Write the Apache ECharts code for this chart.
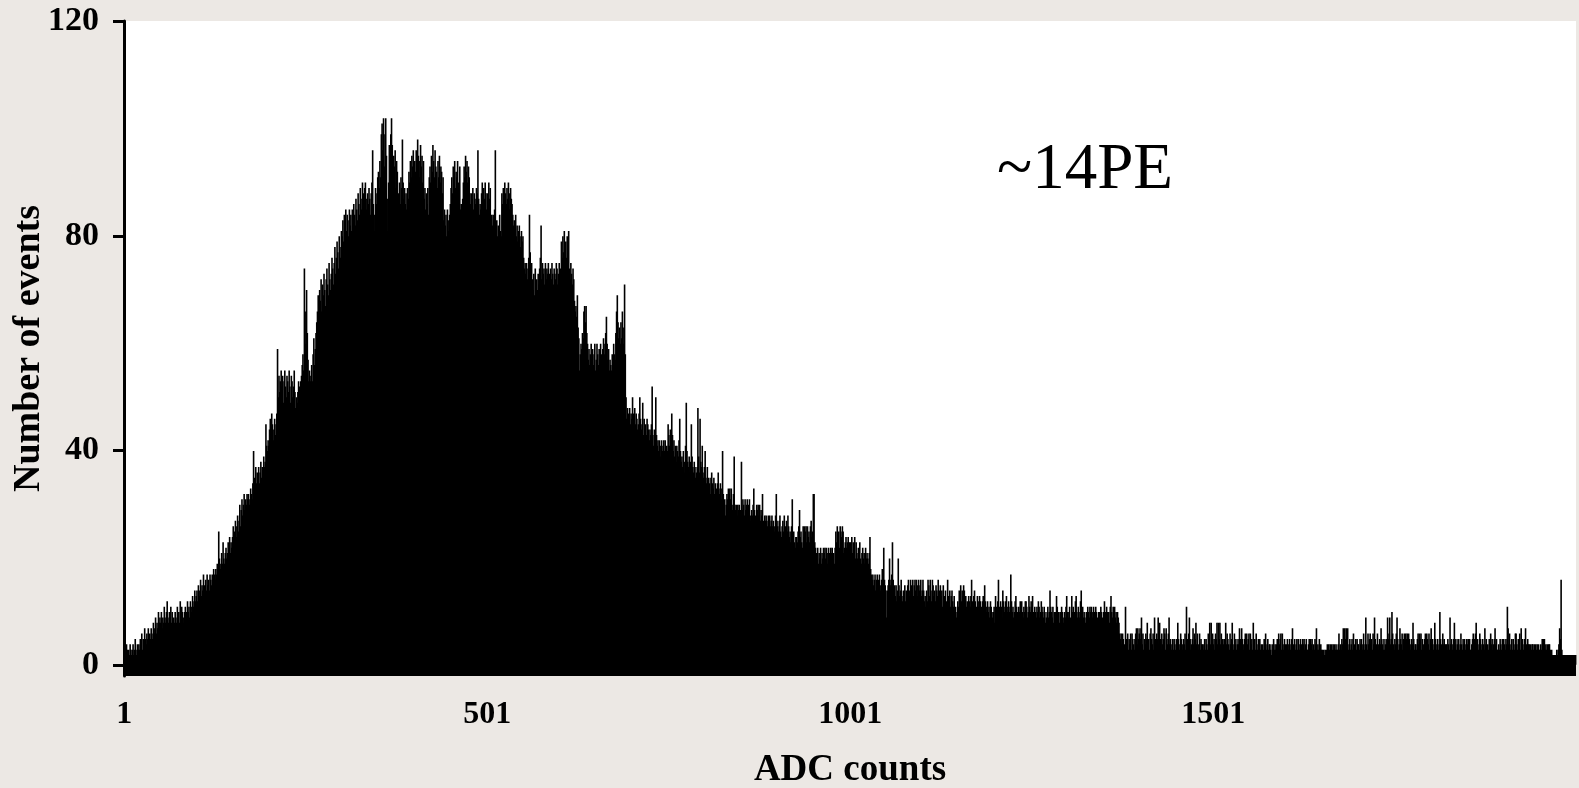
<!DOCTYPE html>
<html>
<head>
<meta charset="utf-8">
<title>ADC counts</title>
<script src="https://cdn.jsdelivr.net/npm/echarts@6/dist/echarts.min.js"></script>
<style>
html,body{margin:0;padding:0;background:#ece8e4;}
#main{width:1579px;height:788px;}
</style>
</head>
<body>
<div id="main"></div>
<script>
// events per ADC channel (bins 1..2000)
var countsRise = [ // bins 1-300
59,3,2,4,3,2,3,2,4,3,2,3,4,2,3,5,3,2,4,3,4,3,5,4,6,3,5,4,7,5,4,6,5,7,4,6,5,7,6,5,8,6,7,9,6,8,7,10,8,9,
8,10,7,9,8,11,9,8,10,12,9,8,10,9,11,8,10,7,9,8,10,9,8,11,9,10,8,12,9,11,10,9,8,10,11,9,10,12,10,11,9,12,11,10,13,11,12,14,12,13,
14,12,15,13,14,16,13,15,14,17,15,13,16,14,17,15,16,14,17,16,15,17,16,18,17,16,18,17,19,18,25,20,18,19,21,19,23,20,19,21,22,20,21,23,22,24,21,23,22,24,
26,24,25,27,24,26,28,25,27,30,26,29,31,28,30,32,29,31,30,32,31,32,30,31,33,32,31,34,40,35,33,37,34,36,35,37,34,36,38,35,37,36,39,37,38,45,41,40,42,41,
44,46,43,47,45,42,44,46,43,45,47,59,50,54,51,53,55,52,54,49,53,55,52,50,54,53,51,55,52,49,54,53,50,52,55,51,48,50,49,51,53,52,50,53,54,56,58,55,74,60,
66,70,62,57,53,55,53,54,56,53,58,61,56,59,62,64,66,69,65,70,68,72,66,71,69,73,70,67,72,74,71,69,75,72,70,73,76,74,71,75,78,73,76,79,77,74,80,78,76,81
];
var countsPeak = [ // bins 301-700
80,83,79,84,82,85,81,84,83,80,85,82,84,81,85,83,86,84,82,87,85,83,88,86,84,89,87,85,90,88,86,89,90,87,85,88,86,89,87,84,88,90,96,86,81,84,89,86,88,91,
92,89,94,91,99,101,96,102,93,99,102,95,87,81,90,97,93,99,102,97,91,95,93,96,89,94,92,85,88,90,86,91,89,98,90,87,89,86,88,85,89,87,92,90,94,91,95,93,96,92,
94,92,96,93,98,95,91,94,97,93,95,90,94,87,89,85,88,86,89,84,91,93,90,95,92,97,94,91,96,93,92,89,94,91,95,90,93,92,88,91,83,85,82,84,80,85,83,81,84,86,
89,91,88,93,90,94,89,92,91,94,90,88,93,85,86,83,87,90,93,91,95,92,94,90,93,91,88,86,88,87,89,85,88,87,86,89,88,96,87,84,86,85,88,90,86,89,87,90,88,85,
88,86,90,87,89,83,84,82,84,83,85,96,81,83,80,82,79,84,81,80,88,86,89,87,90,88,86,89,87,90,88,85,89,87,86,84,82,83,81,84,80,82,79,81,82,80,78,81,79,80,
76,74,75,73,75,72,74,76,84,77,74,75,72,70,73,69,74,71,72,70,73,71,74,76,82,72,75,73,74,71,75,72,74,73,75,70,73,74,72,75,73,71,74,73,72,75,74,71,73,75,
72,74,79,76,80,77,81,78,79,76,80,78,81,74,72,75,73,71,74,72,68,66,67,65,69,63,61,55,58,60,59,62,61,66,67,64,67,62,60,57,59,56,58,60,57,59,56,58,60,55,
57,60,58,56,59,57,60,58,56,59,61,58,60,62,65,60,57,59,55,57,56,55,58,56,60,58,57,62,66,69,64,61,63,60,64,61,66,63,60,71,58,50,46,48,47,46,48,45,47,46
];
var countsFall = [ // bins 701-1350
50,47,46,48,45,47,46,44,45,47,50,46,44,45,49,43,46,44,45,43,46,45,44,42,44,43,45,52,43,41,44,42,50,43,41,42,40,42,41,39,42,40,41,42,40,42,39,41,40,45,
43,41,44,42,47,43,40,42,39,41,38,41,40,39,42,46,40,38,39,37,40,36,38,41,49,40,38,37,39,36,38,45,39,37,36,38,37,35,36,37,48,39,36,46,38,37,41,36,35,37,
40,35,34,37,33,35,34,32,35,36,34,33,35,32,34,31,33,34,36,33,32,34,31,33,40,32,30,31,28,30,32,31,33,32,33,31,33,30,29,32,39,30,29,30,28,30,29,30,27,29,
38,29,31,30,28,31,29,30,31,29,30,31,28,27,29,28,30,33,29,28,27,30,29,30,28,30,27,29,28,32,27,26,28,27,28,27,26,28,27,28,26,27,28,26,27,25,26,28,32,27,
26,25,27,28,25,24,26,27,25,28,24,26,27,25,28,26,24,25,23,26,31,24,25,23,22,24,24,23,25,26,29,24,25,23,22,26,24,26,25,26,23,26,24,25,23,26,27,24,25,32,
32,23,22,21,20,22,19,21,20,22,19,21,20,22,21,22,20,22,21,19,22,21,20,22,21,22,20,21,19,22,25,23,26,24,25,22,26,25,24,26,25,21,22,23,24,22,23,24,22,23,
23,22,24,21,23,22,24,20,23,21,20,22,21,23,20,19,21,22,20,21,19,22,20,21,20,19,21,24,18,17,16,17,15,16,17,14,16,17,15,16,17,15,14,16,18,17,22,16,15,14,
9,14,15,16,20,15,16,17,23,16,14,15,13,15,12,14,20,15,13,14,16,13,12,14,13,15,12,14,13,15,16,14,13,16,15,14,16,13,15,16,14,16,15,13,16,14,15,16,13,14,
16,14,12,13,11,14,12,16,15,13,16,14,12,16,15,13,14,12,15,14,13,16,12,14,15,13,14,11,15,12,13,14,12,10,16,13,12,14,11,13,14,12,11,13,10,11,9,10,12,11,
14,13,15,12,14,13,15,14,12,13,11,12,10,13,12,11,13,16,12,11,13,14,12,10,11,13,12,11,13,12,10,11,12,13,11,15,12,10,11,12,10,11,9,12,11,10,9,10,11,8,
13,11,10,12,16,11,10,12,11,9,14,12,10,11,12,13,10,11,12,10,11,17,12,10,11,9,10,12,13,11,10,9,11,10,12,11,12,10,9,11,10,12,12,11,9,10,13,11,10,12,
11,13,10,9,11,10,9,11,10,12,11,9,10,12,11,10,9,11,10,8,9,10,11,9,10,14,11,10,9,11,8,10,9,10,13,11,9,10,8,10,9,11,10,9,8,10,9,11,13,10,
9,10,11,9,8,13,10,11,9,10,12,13,10,9,11,10,9,12,14,10,11,9,10,9,8,10,9,11,10,9,11,10,11,10,9,11,10,9,11,10,9,8,10,10,9,11,10,9,8,10
];
var countsTail = [ // bins 1351-2000
12,10,9,11,10,9,10,8,11,13,10,9,11,10,11,9,10,8,10,9,8,6,5,6,4,6,5,3,4,11,5,4,6,3,5,4,6,3,6,5,4,3,5,6,7,4,7,5,6,7,
5,9,4,6,3,5,4,6,5,8,4,5,3,6,7,5,4,6,3,9,5,4,6,5,9,4,8,5,3,6,4,5,7,6,3,7,5,4,6,9,4,5,3,4,5,3,5,4,3,5,
4,8,5,3,4,6,5,4,3,5,4,6,3,11,5,4,6,9,5,3,4,5,7,4,6,5,8,4,6,3,4,6,3,5,4,4,3,4,5,3,5,4,3,6,5,8,4,8,5,6,
4,5,3,6,5,8,4,8,5,8,4,6,3,5,4,5,3,8,4,6,5,4,3,6,4,5,8,4,3,6,4,5,3,4,5,4,7,5,4,7,5,3,4,5,6,3,6,4,5,6,
3,6,4,5,3,8,4,5,3,6,4,3,5,4,5,3,4,3,4,3,5,4,6,3,4,5,3,4,4,3,2,4,3,5,3,4,3,4,5,3,6,4,5,6,3,6,4,3,5,4,
3,4,5,3,4,5,3,4,5,7,4,3,5,3,4,5,3,5,4,3,5,4,3,5,4,5,3,4,5,3,3,4,5,3,5,4,5,3,4,3,5,4,7,3,4,3,5,3,4,3,
3,2,3,2,3,2,3,4,3,4,3,4,3,4,3,4,3,4,3,4,3,3,4,6,3,4,3,5,4,7,4,7,5,7,4,7,3,4,5,3,4,5,3,6,4,3,5,3,5,4,
4,3,5,4,5,3,4,6,3,4,9,4,3,6,4,5,6,4,5,3,6,4,9,5,3,4,6,4,3,5,4,7,5,4,3,5,3,4,5,4,9,5,6,9,4,5,10,6,4,3,
5,4,6,9,5,3,4,7,5,4,6,3,5,6,4,6,5,6,4,6,5,4,3,5,4,8,5,3,4,4,3,5,6,4,6,5,6,3,5,4,3,5,6,4,6,5,4,6,3,5,
7,4,5,3,4,8,5,3,4,5,3,4,10,5,4,3,6,4,5,3,4,4,3,5,4,3,9,4,5,3,4,5,8,4,5,3,4,5,5,3,4,6,4,3,5,4,5,3,4,5,
4,5,3,5,3,3,4,5,6,4,5,6,8,4,5,3,4,6,5,3,4,5,4,3,7,4,5,3,4,3,5,4,6,4,5,3,4,5,7,4,5,3,3,4,3,5,4,3,5,4,
5,4,3,5,4,11,7,4,6,3,4,5,3,5,4,3,6,6,4,3,5,4,6,3,7,4,5,3,4,5,7,4,3,5,4,4,3,4,3,4,4,3,4,3,4,3,4,3,4,3,
3,4,3,5,4,5,5,3,4,3,4,3,4,4,3,2,3,2,2,2,2,2,2,3,2,3,4,7,5,16,3,2,2,2,2,2,2,2,2,2,2,2,2,2,2,2,2,2,2,2
];
var yTicks = [0, 40, 80, 120];
var xLabelStep = 500;   // labels at 1, 501, 1001, 1501
var noteText = '~14PE';

var counts = countsRise.concat(countsPeak, countsFall, countsTail);
var bins = counts.map(function(v, i){ return String(i + 1); });

var chart = echarts.init(document.getElementById('main'));

chart.setOption({
    animation: false,
    backgroundColor: '#ece8e4',
    textStyle: {fontFamily: 'Liberation Serif', color: '#000'},
    grid: {
        left: 124, right: 3, top: 21, bottom: 112,
        outerBoundsMode: 'none',
        show: true, backgroundColor: '#fff', borderWidth: 0
    },
    xAxis: {
        type: 'category',
        data: bins,
        name: 'ADC counts',
        nameLocation: 'middle',
        nameGap: 76,
        nameTextStyle: {fontSize: 37, fontWeight: 'bold', color: '#000', fontFamily: 'Liberation Serif'},
        axisLine: {show: false},
        axisTick: {show: false},
        axisLabel: {
            interval: function(i){ return i % xLabelStep === 0; },
            margin: 23,
            fontSize: 32,
            fontWeight: 'bold',
            color: '#000',
            fontFamily: 'Liberation Serif'
        }
    },
    yAxis: {
        type: 'value',
        min: -2,
        max: 120,
        splitLine: {show: false},
        name: 'Number of events',
        nameLocation: 'middle',
        nameRotate: 90,
        nameGap: 76,
        nameMoveOverlap: false,
        nameTextStyle: {fontSize: 38, fontWeight: 'bold', color: '#000', fontFamily: 'Liberation Serif'},
        axisLine: {show: true, lineStyle: {color: '#000', width: 3}},
        axisTick: {show: true, customValues: yTicks, length: 11, lineStyle: {color: '#000', width: 3}},
        axisLabel: {
            customValues: yTicks,
            margin: 25,
            fontSize: 34,
            fontWeight: 'bold',
            color: '#000',
            fontFamily: 'Liberation Serif'
        }
    },
    series: [{
        type: 'bar',
        data: counts,
        barCategoryGap: '0%',
        itemStyle: {color: '#000', borderColor: '#000', borderWidth: 1.6},
        markArea: {
            silent: true,
            itemStyle: {color: '#000'},
            data: [[{yAxis: -2}, {yAxis: 0.6}]]
        }
    }],
    graphic: [{
        type: 'text',
        left: 997,
        top: 138,
        style: {text: noteText, font: '65px "Liberation Serif"', fill: '#000'}
    }]
});
</script>
</body>
</html>
